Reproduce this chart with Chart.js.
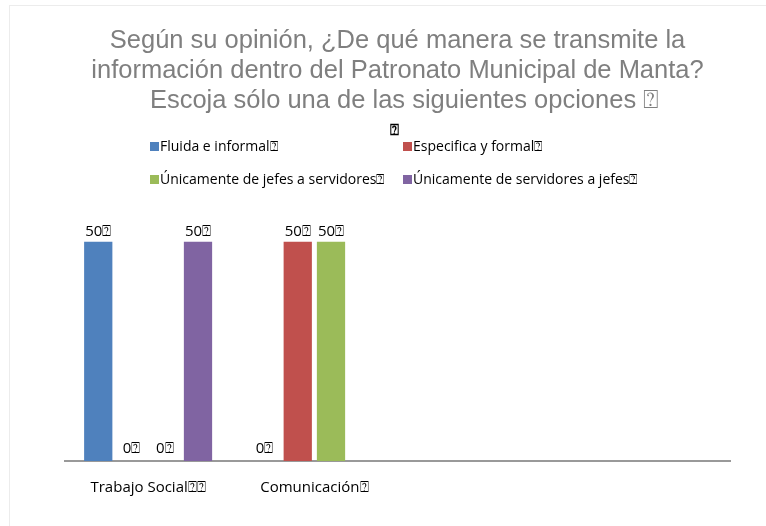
<!DOCTYPE html>
<html>
<head>
<meta charset="utf-8">
<script src="https://cdn.jsdelivr.net/npm/chart.js@4/dist/chart.umd.min.js"></script>
<style>
  html, body { margin: 0; padding: 0; background: #fff; }
  #wrap { position: relative; width: 766px; height: 526px; }
  #frame { position: absolute; left: 9px; top: 5px; width: 780px; height: 540px; border: 1px solid #ececec; box-sizing: border-box; }
</style>
</head>
<body>
<div id="wrap">
  <div id="frame"></div>
  <canvas id="chart" width="766" height="526"></canvas>
</div>
<script>
// data
var categories = ['Trabajo Social\u2370\u2370', 'Comunicaci\u00f3n\u2370', '', ''];
var seriesNames = ['Fluida e informal\u2370', 'Especifica y formal\u2370', '\u00danicamente de jefes a servidores\u2370', '\u00danicamente de servidores a jefes\u2370'];
var fluida = [50, 0, null, null];
var especifica = [0, 50, null, null];
var jefesServidores = [0, 50, null, null];
var servidoresJefes = [50, null, null, null];
var colors = ['#4f81bd', '#c0504d', '#9bbb59', '#8064a2'];

var titleLines = [
    'Seg\u00fan su opini\u00f3n, \u00bfDe qu\u00e9 manera se transmite la',
    'informaci\u00f3n dentro del Patronato Municipal de Manta?',
    '  Escoja s\u00f3lo una de las siguientes opciones \u2370'
];

var legendPos = [[150, 147], [403, 147], [150, 180], [403, 180]];
var labelFont = '"Open Sans", "Liberation Sans", sans-serif';

// legend drawn by hand, two items per row
var legendPlugin = {
    id: 'twoRowLegend',
    afterDraw: function(chart) {
        var ctx = chart.ctx;
        ctx.save();
        ctx.font = '14px ' + labelFont;
        ctx.textBaseline = 'middle';
        ctx.textAlign = 'left';
        for (var i = 0; i < seriesNames.length; i++) {
            var p = legendPos[i];
            ctx.fillStyle = colors[i];
            ctx.fillRect(p[0], p[1] - 5, 9, 9);
            ctx.fillStyle = '#000';
            ctx.fillText(seriesNames[i], p[0] + 10, p[1]);
        }
        ctx.font = 'bold 15px "DejaVu Sans", sans-serif';
        ctx.fillText('\u2370', 390, 131);
        ctx.restore();
    }
};

// value labels above each bar
var valueLabels = {
    id: 'valueLabels',
    afterDatasetsDraw: function(chart) {
        var ctx = chart.ctx;
        ctx.save();
        ctx.font = '15px ' + labelFont;
        ctx.fillStyle = '#000';
        ctx.textAlign = 'center';
        ctx.textBaseline = 'bottom';
        chart.data.datasets.forEach(function(ds, di) {
            var meta = chart.getDatasetMeta(di);
            meta.data.forEach(function(bar, i) {
                var v = ds.data[i];
                if (v === null || v === undefined) return;
                ctx.fillText(v + '\u2370', bar.x, bar.y - (v === 0 ? 5 : 3));
            });
        });
        ctx.restore();
    }
};

new Chart(document.getElementById('chart'), {
    type: 'bar',
    data: {
        labels: categories,
        datasets: [
            {label: seriesNames[0], data: fluida, backgroundColor: colors[0]},
            {label: seriesNames[1], data: especifica, backgroundColor: colors[1]},
            {label: seriesNames[2], data: jefesServidores, backgroundColor: colors[2]},
            {label: seriesNames[3], data: servidoresJefes, backgroundColor: colors[3]}
        ]
    },
    options: {
        responsive: false,
        animation: false,
        categoryPercentage: 0.8,
        barPercentage: 0.85,
        layout: {padding: {left: 65, right: 36, top: 0, bottom: 19}},
        plugins: {
            legend: {display: false},
            tooltip: {enabled: false},
            title: {
                display: true,
                text: titleLines,
                color: '#7f7f7f',
                font: {family: '"Liberation Sans", Arial, sans-serif', size: 25.5, weight: 'normal', lineHeight: '30px'},
                padding: {top: 26, bottom: 82}
            }
        },
        scales: {
            x: {
                grid: {display: false},
                border: {color: '#999', width: 2},
                ticks: {color: '#000', padding: 10, font: {family: labelFont, size: 15}, maxRotation: 0}
            },
            y: {
                display: false,
                min: 0,
                max: 60
            }
        }
    },
    plugins: [legendPlugin, valueLabels]
});
</script>
</body>
</html>
